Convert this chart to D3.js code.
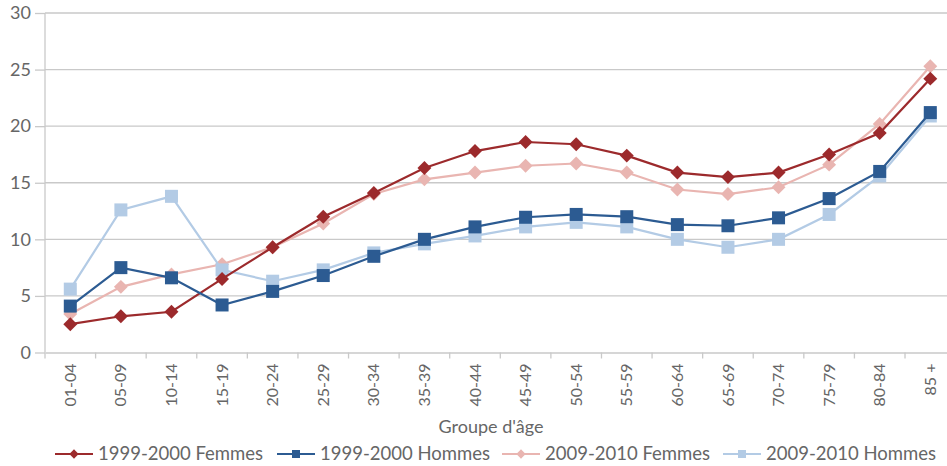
<!DOCTYPE html>
<html><head><meta charset="utf-8">
<script src="https://cdn.jsdelivr.net/npm/d3@7"></script>
<style>body{margin:0;background:#fff}svg{display:block}text{font-family:Lato,"Open Sans",sans-serif;fill:#666}</style>
</head><body><svg id="c" width="947" height="466"></svg>
<script>
const categories = ["01-04","05-09","10-14","15-19","20-24","25-29","30-34","35-39","40-44","45-49","50-54","55-59","60-64","65-69","70-74","75-79","80-84","85 +"];
const femmes1999 = [2.5,3.2,3.6,6.5,9.3,12.0,14.1,16.3,17.8,18.6,18.4,17.4,15.9,15.5,15.9,17.5,19.4,24.2];
const hommes1999 = [4.1,7.5,6.6,4.2,5.4,6.8,8.5,10.0,11.1,11.95,12.2,12.0,11.3,11.2,11.9,13.6,16.0,21.2];
const femmes2009 = [3.4,5.8,6.9,7.8,9.3,11.4,14.0,15.3,15.9,16.5,16.7,15.9,14.4,14.0,14.6,16.6,20.2,25.3];
const hommes2009 = [5.6,12.6,13.8,7.3,6.3,7.3,8.8,9.6,10.3,11.1,11.5,11.1,10.0,9.3,10.0,12.2,15.6,20.9];
const yTicks = [0,5,10,15,20,25,30];
const seriesNames = ["1999-2000 Femmes","1999-2000 Hommes","2009-2010 Femmes","2009-2010 Hommes"];
const xTitle = "Groupe d'âge";

const series = [
  {name: seriesNames[2], values: femmes2009, color:"#e9b5b1", shape:"diamond"},
  {name: seriesNames[3], values: hommes2009, color:"#b3cbe5", shape:"square"},
  {name: seriesNames[0], values: femmes1999, color:"#9c2a2c", shape:"diamond"},
  {name: seriesNames[1], values: hommes1999, color:"#2c5b92", shape:"square"}
];

const svg = d3.select("#c");
const L = 45, R = 955.6, T = 13, B = 352.5;
const x = d3.scaleBand().domain(categories).range([L, R]);
const y = d3.scaleLinear().domain([0,30]).range([B, T]);

svg.append("g").selectAll("line").data(yTicks.filter(d=>d>0)).join("line")
  .attr("x1", L).attr("x2", 947).attr("y1", d=>y(d)).attr("y2", d=>y(d))
  .attr("stroke","#c9c9c9").attr("stroke-width",1.3);

const ya = svg.append("g").attr("transform",`translate(${L},0)`)
  .call(d3.axisLeft(y).tickValues(yTicks).tickSize(10).tickPadding(4));
ya.select(".domain").attr("stroke","#c9c9c9").attr("stroke-width",1.3).attr("d",`M0,${T}V${B}`);
ya.selectAll(".tick line").attr("stroke","#c9c9c9").attr("stroke-width",1.3).attr("x1",-10).attr("x2",0);
ya.selectAll(".tick text").attr("font-size",18).attr("fill","#666").attr("font-family","Lato,'Open Sans',sans-serif");

const xa = svg.append("g").attr("transform",`translate(0,${B})`)
  .call(d3.axisBottom(x).tickSize(0).tickPadding(0));
xa.select(".domain").attr("stroke","#c9c9c9").attr("stroke-width",1.3);
xa.selectAll(".tick text").attr("font-size",16).attr("fill","#666")
  .attr("font-family","Lato,'Open Sans',sans-serif")
  .attr("transform","rotate(-90)").attr("text-anchor","end")
  .attr("x",-11).attr("y",0).attr("dy","0.35em");
svg.append("g").selectAll("line").data(categories.concat(["__end"])).join("line")
  .attr("x1",(d,i)=>L + i*x.step()).attr("x2",(d,i)=>L + i*x.step())
  .attr("y1",B).attr("y2",B+6).attr("stroke","#c9c9c9").attr("stroke-width",1.3);

svg.append("text").attr("x",491).attr("y",433).attr("text-anchor","middle")
  .attr("font-size",18).text(xTitle);

const cx = c => x(c) + x.bandwidth()/2;
const line = d3.line().x((d,i)=>cx(categories[i])).y(d=>y(d));

function marker(g, shape, color, px, py, s) {
  if (shape === "square") {
    g.append("rect").attr("x",px-s/2).attr("y",py-s/2).attr("width",s).attr("height",s).attr("fill",color);
  } else {
    const r = s*0.58;
    g.append("path").attr("d",`M${px},${py-r}L${px+r},${py}L${px},${py+r}L${px-r},${py}Z`).attr("fill",color);
  }
}

series.forEach(s => {
  const g = svg.append("g");
  g.append("path").attr("d", line(s.values)).attr("fill","none").attr("stroke",s.color).attr("stroke-width",2.2);
  s.values.forEach((v,i)=> marker(g, s.shape, s.color, cx(categories[i]), y(v), s.shape==="square"?13:12));
});

const legendPos = [{x:55, name:seriesNames[0]},{x:277,name:seriesNames[1]},{x:502,name:seriesNames[2]},{x:723,name:seriesNames[3]}];
const legendSeries = [series[2],series[3],series[0],series[1]];
legendPos.forEach((p,i)=>{
  const s = legendSeries[i];
  const g = svg.append("g");
  g.append("line").attr("x1",p.x).attr("x2",p.x+38).attr("y1",454).attr("y2",454).attr("stroke",s.color).attr("stroke-width",2);
  marker(g, s.shape, s.color, p.x+19, 454, 8);
  g.append("text").attr("x",p.x+43).attr("y",454).attr("dy","0.35em").attr("font-size",18.5).text(p.name);
});
</script></body></html>
